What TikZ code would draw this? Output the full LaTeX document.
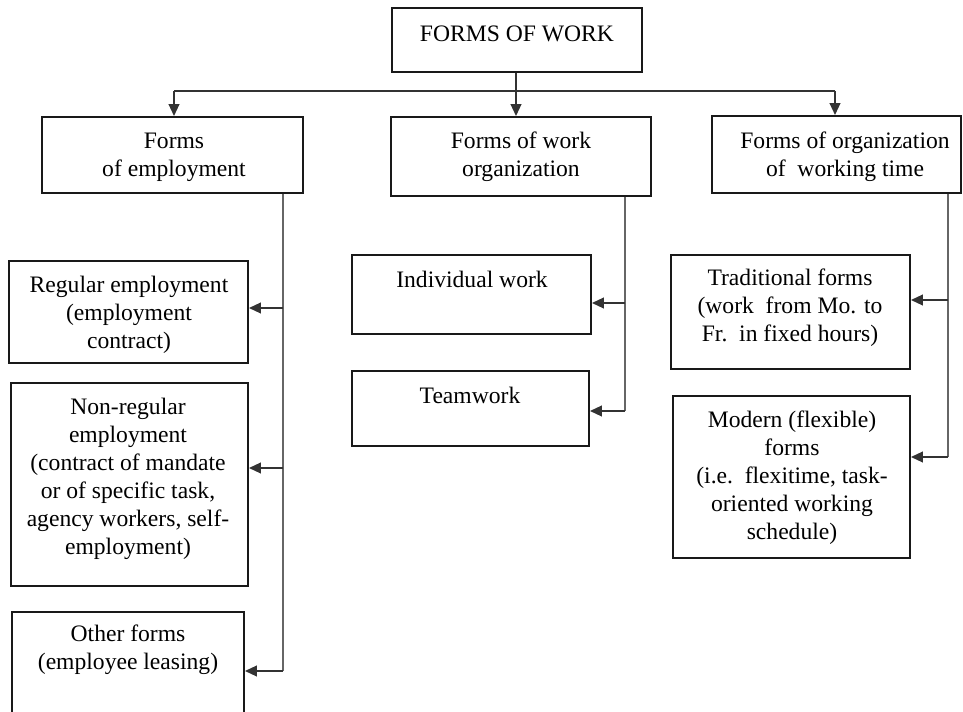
\documentclass[tikz,border=0pt]{standalone}
\usepackage{fontspec}
\setmainfont{Liberation Serif}
\usetikzlibrary{arrows.meta}
\tikzset{
  box/.style={draw=black!90, line width=1.4pt, inner sep=0pt, fill=none},
  txt/.style={align=center, inner sep=0pt, font=\fontsize{17.7}{21}\selectfont},
  trunk/.style={draw=black!60, line width=1.7pt},
  arr/.style={draw=black!80, line width=1.5pt, -{Triangle[length=9pt,width=8pt]}},
  hline/.style={draw=black!80, line width=1.8pt}
}
\begin{document}
\begin{tikzpicture}[x=0.75pt,y=-0.75pt]
\clip (0,0) rectangle (963,712);
\fill[white] (0,0) rectangle (963,712);

% boxes (centres and sizes from pixel layout)
\node[box, minimum width=250*0.75pt, minimum height=64*0.75pt] (top) at (517,40) {};
\node[txt] (ttop) at (517,34) {FORMS OF WORK};

\node[box, minimum width=261*0.75pt, minimum height=76*0.75pt] (b1) at (172.5,155) {};
\node[txt] (tb1) at (174,157) {Forms\\of employment};
\node[box, minimum width=260*0.75pt, minimum height=79*0.75pt] (b2) at (521,156.5) {};
\node[txt] (tb2) at (521,157) {Forms of work\\organization};
\node[box, minimum width=249*0.75pt, minimum height=77*0.75pt] (b3) at (836.5,154.5) {};
\node[txt] (tb3) at (845,157) {Forms of organization\\of\ \ working time};

\node[box, minimum width=239*0.75pt, minimum height=102*0.75pt] (reg) at (128.5,312) {};
\node[txt] (treg) at (129,314.5) {Regular employment\\(employment\\contract)};
\node[box, minimum width=237*0.75pt, minimum height=203*0.75pt] (nreg) at (129.5,484.5) {};
\node[txt] (tnreg) at (128,479) {Non-regular\\employment\\(contract of mandate\\or of specific task,\\agency workers, self-\\employment)};
\node[box, minimum width=232*0.75pt, minimum height=130*0.75pt] (oth) at (128,677) {};
\node[txt] (toth) at (128,650) {Other forms\\(employee leasing)};

\node[box, minimum width=239*0.75pt, minimum height=79*0.75pt] (ind) at (471.5,294.5) {};
\node[txt] (tind) at (472,279) {Individual work};
\node[box, minimum width=237*0.75pt, minimum height=75*0.75pt] (team) at (470.5,408.5) {};
\node[txt] (tteam) at (470,395) {Teamwork};

\node[box, minimum width=239*0.75pt, minimum height=114*0.75pt] (trad) at (790.5,312) {};
\node[txt] (ttrad) at (790,308) {Traditional forms\\(work\ \ from Mo. to\\Fr.\ \ in fixed hours)};
\node[box, minimum width=237*0.75pt, minimum height=162*0.75pt] (mod) at (791.5,477) {};
\node[txt] (tmod) at (792,478) {Modern (flexible)\\forms\\(i.e.\ \ flexitime, task-\\oriented working\\schedule)};

% top distribution
\coordinate (hl) at (174,91);
\coordinate (hr) at (835,91);
\coordinate (hc) at (516,91);
\draw[hline] (hl) -- (hr);
\draw[arr] (top.south -| hc) -- (b2.north -| hc);
\draw[arr] (hl) -- (b1.north -| hl);
\draw[arr] (hr) -- (b3.north -| hr);

% left trunk
\coordinate (t1) at (283,0);
\coordinate (a11) at (283,308);
\coordinate (a12) at (283,468);
\coordinate (a13) at (283,671);
\draw[trunk] (b1.south -| t1) -- (a13);
\draw[arr] (a11) -- (reg.east |- a11);
\draw[arr] (a12) -- (nreg.east |- a12);
\draw[arr] (a13) -- (oth.east |- a13);

% middle trunk
\coordinate (t2) at (625,0);
\coordinate (a21) at (625,303);
\coordinate (a22) at (625,411);
\draw[trunk] (b2.south -| t2) -- (a22);
\draw[arr] (a21) -- (ind.east |- a21);
\draw[arr] (a22) -- (team.east |- a22);

% right trunk
\coordinate (t3) at (948,0);
\coordinate (a31) at (948,300);
\coordinate (a32) at (948,457);
\draw[trunk] (b3.south -| t3) -- (a32);
\draw[arr] (a31) -- (trad.east |- a31);
\draw[arr] (a32) -- (mod.east |- a32);
\end{tikzpicture}
\end{document}
